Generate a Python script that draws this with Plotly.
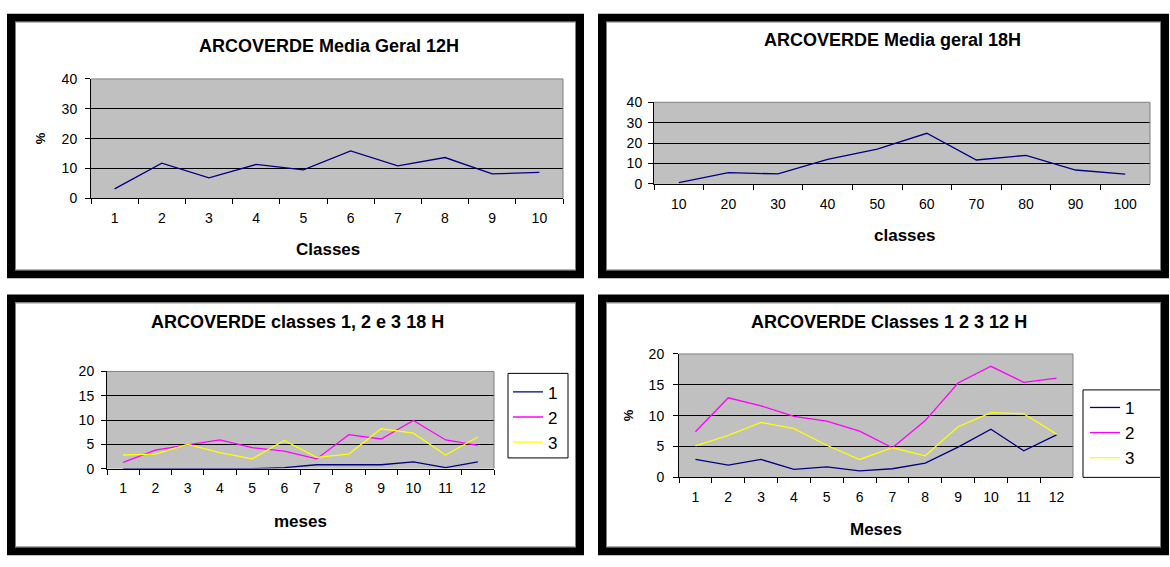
import plotly.graph_objects as go

# ---- data ----
classes_12h = ["1", "2", "3", "4", "5", "6", "7", "8", "9", "10"]
media_12h = [3.2, 11.8, 6.9, 11.4, 9.6, 15.9, 10.9, 13.7, 8.2, 8.7]

classes_18h = ["10", "20", "30", "40", "50", "60", "70", "80", "90", "100"]
media_18h = [0.6, 5.5, 4.9, 12.0, 17.0, 24.8, 11.7, 14.0, 6.8, 4.8]

meses = ["1", "2", "3", "4", "5", "6", "7", "8", "9", "10", "11", "12"]
classe1_18h = [0, 0, 0, 0, 0, 0.2, 0.8, 0.8, 0.8, 1.4, 0.2, 1.4]
classe2_18h = [1.3, 3.8, 4.9, 5.9, 4.3, 3.6, 2.0, 7.0, 6.1, 9.9, 5.9, 4.8]
classe3_18h = [2.8, 3.0, 5.0, 3.3, 2.0, 5.8, 2.3, 3.0, 8.2, 7.3, 2.8, 6.5]

classe1_12h = [2.9, 2.0, 2.9, 1.3, 1.7, 1.05, 1.4, 2.3, 4.9, 7.8, 4.3, 6.9]
classe2_12h = [7.4, 12.9, 11.6, 9.9, 9.1, 7.5, 4.8, 9.2, 15.3, 18.0, 15.4, 16.1]
classe3_12h = [5.1, 6.8, 8.9, 7.9, 5.2, 2.9, 4.8, 3.5, 8.2, 10.5, 10.3, 7.0]

series_names = ["1", "2", "3"]

# ---- style ----
W, H = 1170, 567
FONT = "Liberation Sans, Arial, sans-serif"
NAVY, MAGENTA, YELLOW = "#000080", "#FF00FF", "#FFFF00"
SILVER = "#C0C0C0"
LW = 1.3


def fx(px):
    return px / W


def fy(py):
    return 1 - py / H


def xaxis(x0, x1, anchor, n):
    return dict(
        domain=[fx(x0), fx(x1)], anchor=anchor, type="category",
        range=[-0.5, n - 0.5],
        tickson="boundaries", ticks="outside", ticklen=5, tickcolor="black",
        showline=True, linecolor="black", linewidth=1, showgrid=False,
        tickfont=dict(size=14, color="black", family=FONT),
        ticklabelstandoff=7, fixedrange=True,
    )


def yaxis(y0, y1, anchor, top, step, standoff):
    return dict(
        domain=[fy(y1), fy(y0)], anchor=anchor, range=[0, top],
        tick0=0, dtick=step, ticks="outside", ticklen=5, tickcolor="black",
        showline=True, linecolor="black", linewidth=1,
        showgrid=True, gridcolor="black", gridwidth=1, zeroline=False,
        tickfont=dict(size=14, color="black", family=FONT),
        ticklabelstandoff=standoff, fixedrange=True,
    )


fig = go.Figure()

# Panel 1: media geral 12H
fig.add_trace(go.Scatter(x=classes_12h, y=media_12h, mode="lines",
                         line=dict(color=NAVY, width=LW),
                         xaxis="x", yaxis="y", showlegend=False))
# Panel 2: media geral 18H
fig.add_trace(go.Scatter(x=classes_18h, y=media_18h, mode="lines",
                         line=dict(color=NAVY, width=LW),
                         xaxis="x2", yaxis="y2", showlegend=False))
# Panel 3: classes 1, 2, 3 at 18H
for name, vals, col in zip(series_names, [classe1_18h, classe2_18h, classe3_18h],
                           [NAVY, MAGENTA, YELLOW]):
    fig.add_trace(go.Scatter(x=meses, y=vals, mode="lines", name=name,
                             line=dict(color=col, width=LW),
                             xaxis="x3", yaxis="y3", legend="legend",
                             legendgroup="a" + name))
# Panel 4: classes 1, 2, 3 at 12H
for name, vals, col in zip(series_names, [classe1_12h, classe2_12h, classe3_12h],
                           [NAVY, MAGENTA, YELLOW]):
    fig.add_trace(go.Scatter(x=meses, y=vals, mode="lines", name=name,
                             line=dict(color=col, width=LW),
                             xaxis="x4", yaxis="y4", legend="legend2",
                             legendgroup="b" + name))

# plot areas (pixel boxes)
P1 = (91, 73, 563, 196)
P2 = (654, 97, 1150, 181)
P3 = (107, 374, 494, 474)
P4 = (679, 356, 1073, 483)

legend_style = dict(
    xanchor="left", yanchor="top", bgcolor="rgba(0,0,0,0)", borderwidth=0,
    font=dict(size=17, color="black", family=FONT), tracegroupgap=7,
    traceorder="normal",
)

fig.update_layout(
    width=W, height=H, margin=dict(l=0, r=0, t=0, b=0),
    paper_bgcolor="white", plot_bgcolor=SILVER,
    font=dict(family=FONT, color="black"),
    xaxis=xaxis(P1[0], P1[2], "y", len(classes_12h)),
    yaxis=yaxis(P1[1], P1[3], "x", 40, 10, 5),
    xaxis2=xaxis(P2[0], P2[2], "y2", len(classes_18h)),
    yaxis2=yaxis(P2[1], P2[3], "x2", 40, 10, 3),
    xaxis3=xaxis(P3[0], P3[2], "y3", len(meses)),
    yaxis3=yaxis(P3[1], P3[3], "x3", 20, 5, 4),
    xaxis4=xaxis(P4[0], P4[2], "y4", len(meses)),
    yaxis4=yaxis(P4[1], P4[3], "x4", 20, 5, 6),
    legend=dict(x=fx(508), y=fy(377), **legend_style),
    legend2=dict(x=fx(1085), y=fy(393), **legend_style),
    showlegend=True,
)

shapes = []
# plot area edges (top and right) in dark gray
for xa, ya in [("x", "y"), ("x2", "y2"), ("x3", "y3"), ("x4", "y4")]:
    for (a, b, c, d) in [(0, 1, 1, 1), (1, 0, 1, 1)]:
        shapes.append(dict(type="line", xref=xa + " domain", yref=ya + " domain",
                           x0=a, y0=b, x1=c, y1=d, layer="above",
                           line=dict(color="#808080", width=1)))

# black frames around each chart
frames = [(7, 6, 584, 278), (598, 6, 1169, 278), (7, 295, 584, 563), (598, 295, 1169, 563)]
for (x0, y0, x1, y1) in frames:
    shapes.append(dict(type="rect", xref="paper", yref="paper",
                       x0=fx(x0 + 4), x1=fx(x1 - 4), y0=fy(y0 + 4), y1=fy(y1 - 4),
                       line=dict(color="black", width=8), layer="above"))
    shapes.append(dict(type="rect", xref="paper", yref="paper",
                       x0=fx(x0 + 8.5), x1=fx(x1 - 8.5), y0=fy(y0 + 8.5), y1=fy(y1 - 8.5),
                       line=dict(color="#808080", width=1), layer="above"))

# legend boxes
for (x0, y0, x1, y1) in [(508, 376, 568, 463), (1083, 393, 1161, 483)]:
    shapes.append(dict(type="rect", xref="paper", yref="paper",
                       x0=fx(x0), x1=fx(x1), y0=fy(y0), y1=fy(y1),
                       line=dict(color="black", width=1), layer="below"))

fig.update_layout(shapes=shapes)


def text(x, y, s, size, bold=False, angle=0):
    return dict(x=fx(x), y=fy(y), xref="paper", yref="paper", showarrow=False,
                text=f"<b>{s}</b>" if bold else s, textangle=angle,
                xanchor="center", yanchor="middle",
                font=dict(size=size, color="black", family=FONT))


fig.update_layout(annotations=[
    text(329, 39, "ARCOVERDE Media Geral 12H", 18, True),
    text(892, 33, "ARCOVERDE Media geral 18H", 18, True),
    text(297, 323, "ARCOVERDE classes 1, 2 e 3 18 H", 18, True),
    text(889, 323, "ARCOVERDE Classes 1 2 3 12 H", 18, True),
    text(328, 249, "Classes", 17, True),
    text(904, 234, "classes", 17, True),
    text(300, 528, "meses", 17, True),
    text(876, 537, "Meses", 17, True),
    text(40, 134, "%", 13, True, -90),
    text(628, 419, "%", 13, True, -90),
])

fig.write_html("out.html")
